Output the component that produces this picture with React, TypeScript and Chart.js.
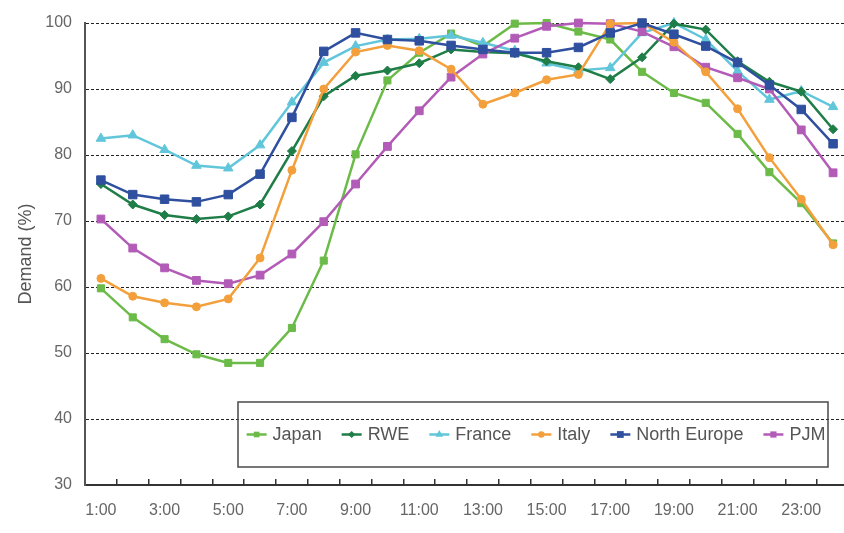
import React, { useEffect, useRef } from 'react';
import { Chart, registerables } from 'chart.js';

Chart.register(...registerables);

const hours = [
  '1:00', '2:00', '3:00', '4:00', '5:00', '6:00', '7:00', '8:00', '9:00', '10:00', '11:00', '12:00',
  '13:00', '14:00', '15:00', '16:00', '17:00', '18:00', '19:00', '20:00', '21:00', '22:00', '23:00', '24:00',
];

const japan = [59.8, 55.4, 52.1, 49.8, 48.5, 48.5, 53.8, 64.0, 80.1, 91.3, 95.5, 98.4, 96.5, 99.9, 100, 98.7, 97.5, 92.6, 89.4, 87.9, 83.2, 77.4, 72.7, 66.6];
const rwe = [75.6, 72.5, 70.9, 70.3, 70.7, 72.5, 80.6, 88.9, 92.0, 92.8, 93.9, 96.0, 95.6, 95.4, 94.2, 93.3, 91.5, 94.8, 99.9, 99.0, 94.2, 91.1, 89.6, 83.9];
const france = [82.5, 83.0, 80.8, 78.4, 78.0, 81.5, 88.0, 94.0, 96.5, 97.5, 97.6, 98.1, 97.0, 95.8, 93.9, 92.8, 93.2, 98.5, 100, 97.5, 92.7, 88.4, 89.7, 87.3];
const italy = [61.3, 58.6, 57.6, 57.0, 58.2, 64.4, 77.7, 90.0, 95.6, 96.6, 95.8, 93.0, 87.7, 89.4, 91.4, 92.2, 99.9, 100, 97.1, 92.6, 87.0, 79.6, 73.3, 66.4];
const northEurope = [76.2, 74.0, 73.3, 72.9, 74.0, 77.1, 85.7, 95.7, 98.5, 97.5, 97.3, 96.6, 96.0, 95.5, 95.5, 96.3, 98.5, 100, 98.3, 96.5, 94.0, 90.6, 86.9, 81.7];
const pjm = [70.3, 65.9, 62.9, 61.0, 60.5, 61.8, 65.0, 69.9, 75.6, 81.3, 86.7, 91.8, 95.3, 97.7, 99.5, 100, 99.9, 98.7, 96.4, 93.3, 91.7, 90.0, 83.8, 77.3];

const yTicks = [30, 40, 50, 60, 70, 80, 90, 100];

const FONT = "'Liberation Sans', Arial, Helvetica, sans-serif";

function drawMarker(ctx: CanvasRenderingContext2D, style: string, x: number, y: number, r: number, color: string) {
  ctx.save();
  ctx.fillStyle = color;
  ctx.beginPath();
  if (style === 'rect') {
    const s = r * Math.SQRT1_2;
    ctx.rect(x - s, y - s, 2 * s, 2 * s);
  } else if (style === 'rectRot') {
    ctx.moveTo(x, y - r);
    ctx.lineTo(x + r, y);
    ctx.lineTo(x, y + r);
    ctx.lineTo(x - r, y);
    ctx.closePath();
  } else if (style === 'triangle') {
    ctx.moveTo(x, y - r);
    ctx.lineTo(x + r * 0.866, y + r * 0.5);
    ctx.lineTo(x - r * 0.866, y + r * 0.5);
    ctx.closePath();
  } else {
    ctx.arc(x, y, r, 0, Math.PI * 2);
  }
  ctx.fill();
  ctx.restore();
}

const boxLegend = {
  id: 'boxLegend',
  afterDatasetsDraw(chart: any) {
    const { ctx, chartArea } = chart;
    const left = chartArea.left + 153;
    const right = chartArea.right - 21;
    const top = chartArea.bottom - 83;
    const bottom = chartArea.bottom - 18;
    ctx.save();
    ctx.strokeStyle = '#4a4a4a';
    ctx.lineWidth = 1.5;
    ctx.strokeRect(left, top, right - left, bottom - top);
    ctx.font = `18px ${FONT}`;
    const items = chart.data.datasets.map((ds: any) => ({
      label: ds.label,
      color: ds.borderColor,
      style: ds.pointStyle,
      r: ds.pointRadius,
    }));
    const lineLen = 20;
    const gapText = 6;
    const gapItem = 20;
    const widths = items.map((it: any) => lineLen + gapText + ctx.measureText(it.label).width);
    const total = widths.reduce((a: number, b: number) => a + b, 0) + gapItem * (items.length - 1);
    let x = (left + right) / 2 - total / 2 + 3;
    const cy = (top + bottom) / 2;
    items.forEach((it: any, i: number) => {
      ctx.strokeStyle = it.color;
      ctx.lineWidth = 2.5;
      ctx.beginPath();
      ctx.moveTo(x, cy);
      ctx.lineTo(x + lineLen, cy);
      ctx.stroke();
      drawMarker(ctx, it.style, x + lineLen / 2, cy, it.r * 0.8, it.color);
      ctx.fillStyle = '#555';
      ctx.textBaseline = 'middle';
      ctx.textAlign = 'left';
      ctx.fillText(it.label, x + lineLen + gapText, cy + 1);
      x += widths[i] + gapItem;
    });
    ctx.restore();
  },
};

function series(label: string, data: number[], color: string, pointStyle: string, pointRadius: number, order: number) {
  return {
    label,
    data,
    borderColor: color,
    backgroundColor: color,
    pointBackgroundColor: color,
    pointBorderColor: color,
    pointBorderWidth: 1,
    pointStyle,
    pointRadius,
    borderWidth: 2.5,
    tension: 0,
    clip: false as const,
    order,
  };
}

export default function App() {
  const ref = useRef<HTMLCanvasElement | null>(null);

  useEffect(() => {
    if (!ref.current) return;
    const chart = new Chart(ref.current, {
      type: 'line',
      data: {
        labels: hours,
        datasets: [
          series('Japan', japan, '#6cbb49', 'rect', 5, 5),
          series('RWE', rwe, '#1f7d48', 'rectRot', 4.5, 3),
          series('France', france, '#62c6da', 'triangle', 5.5, 4),
          series('Italy', italy, '#f3a03c', 'circle', 4, 1),
          series('North Europe', northEurope, '#2f4f9f', 'rect', 6, 0),
          series('PJM', pjm, '#b25bb7', 'rect', 5.5, 2),
        ] as any,
      },
      options: {
        animation: false,
        responsive: false,
        maintainAspectRatio: false,
        layout: { padding: { top: 23, right: 1, left: 0, bottom: 0 } },
        plugins: {
          legend: { display: false },
          tooltip: { enabled: false },
        },
        scales: {
          x: {
            type: 'category',
            offset: true,
            grid: {
              display: true,
              drawOnChartArea: false,
              drawTicks: true,
              tickLength: -6,
              offset: true,
              color: '#333',
              lineWidth: 1.5,
            },
            border: { display: true, color: '#333', width: 2 },
            ticks: {
              autoSkip: false,
              maxRotation: 0,
              padding: 22,
              color: '#666',
              font: { family: FONT, size: 16 },
              callback: (_v: any, i: number) => (i % 2 === 0 ? hours[i] : ''),
            },
            afterFit: (s: any) => {
              s.height = 48;
            },
          },
          y: {
            min: yTicks[0],
            max: yTicks[yTicks.length - 1],
            afterBuildTicks: (s: any) => {
              s.ticks = yTicks.map((v) => ({ value: v }));
            },
            grid: { color: '#222', lineWidth: 1, drawTicks: false },
            border: { display: true, color: '#555', width: 2, dash: [3, 2] },
            ticks: {
              padding: 13,
              color: '#666',
              font: { family: FONT, size: 16 },
            },
            title: {
              display: true,
              text: 'Demand (%)',
              color: '#555',
              font: { family: FONT, size: 18 },
              padding: { top: 15, bottom: 0 },
            },
            afterFit: (s: any) => {
              s.width = 85;
            },
          },
        },
      },
      plugins: [boxLegend],
    });
    return () => chart.destroy();
  }, []);

  return (
    <div style={{ position: 'fixed', left: 0, top: 0, width: 844, height: 533, overflow: 'hidden', background: '#fff' }}>
      <canvas ref={ref} width={856} height={533} style={{ display: 'block' }} />
    </div>
  );
}
